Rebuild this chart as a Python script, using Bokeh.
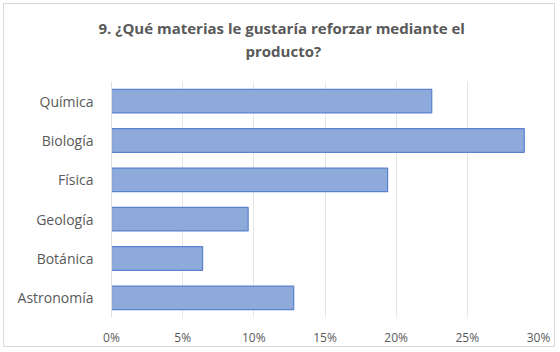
from bokeh.plotting import figure
from bokeh.models import ColumnDataSource, FactorRange, Range1d, NumeralTickFormatter, FixedTicker, Title
from bokeh.embed import file_html
from bokeh.resources import INLINE

categories = ["Química", "Biología", "Física", "Geología", "Botánica", "Astronomía"]
values = [0.225, 0.290, 0.194, 0.096, 0.064, 0.128]
ticks = [0, 0.05, 0.10, 0.15, 0.20, 0.25, 0.30]
title_lines = ["9. ¿Qué materias le gustaría reforzar mediante el", "producto?"]

src = ColumnDataSource(dict(cat=categories, val=values))

p = figure(width=552, height=344, output_backend="svg", toolbar_location=None,
           y_range=FactorRange(*reversed(categories), range_padding=0),
           x_range=Range1d(0, 0.30),
           min_border_left=107, min_border_right=18, min_border_top=77, min_border_bottom=30)
p.styles = {"margin": "3px", "border": "1px solid #d9d9d9"}

p.hbar(y="cat", right="val", height=0.6, source=src,
       fill_color="#8eaadb", line_color="#5b82cf", line_width=1.2)

def style_title(t, offset):
    t.align = "left"
    t.offset = offset
    t.text_font = "Open Sans"
    t.text_font_size = "15px"
    t.text_font_style = "bold"
    t.text_color = "#595959"

# spacer between frame and title lines
spacer = Title(text=" ", text_font_size="12px", standoff=4)
p.add_layout(spacer, "above")
t2 = Title(text=title_lines[1])
style_title(t2, 134)
t2.standoff = 2
p.add_layout(t2, "above")

p.title.text = title_lines[0]
style_title(p.title, -13)
p.title.standoff = 0

p.outline_line_color = None
p.ygrid.grid_line_color = None
p.xgrid.grid_line_color = "#e6e6e6"
p.xgrid.ticker = FixedTicker(ticks=ticks)

p.xaxis.ticker = FixedTicker(ticks=ticks)
p.xaxis.formatter = NumeralTickFormatter(format="0%")
p.xaxis.axis_line_color = None
p.xaxis.major_tick_line_color = None
p.xaxis.minor_tick_line_color = None
p.xaxis.major_label_text_font = "Open Sans"
p.xaxis.major_label_text_font_size = "12px"
p.xaxis.major_label_text_color = "#595959"
p.xaxis.major_label_standoff = 5

p.yaxis.axis_line_color = "#e0e0e0"
p.yaxis.major_tick_line_color = None
p.yaxis.minor_tick_line_color = None
p.yaxis.major_label_text_font = "Open Sans"
p.yaxis.major_label_text_font_size = "14px"
p.yaxis.major_label_text_color = "#595959"
p.yaxis.major_label_standoff = 12

open("out.html", "w").write(file_html(p, INLINE))
